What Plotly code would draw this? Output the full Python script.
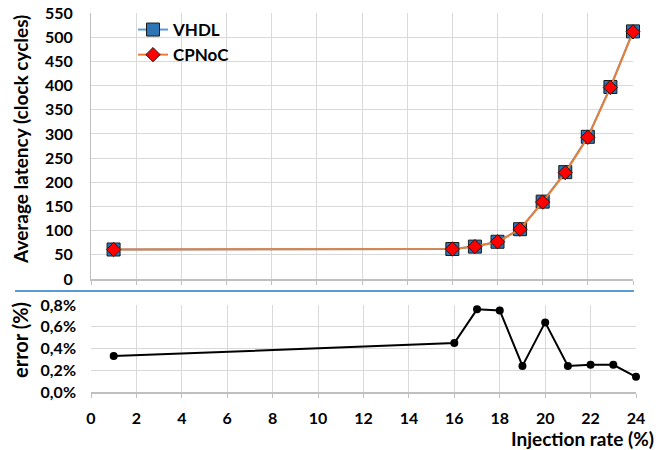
import plotly.graph_objects as go

injection = [1, 16, 17, 18, 19, 20, 21, 22, 23, 24]
vhdl = [61, 62, 67, 77, 103, 160, 221, 294, 397, 512]
cpnoc = [61, 62, 67, 77, 103, 159, 220, 293, 396, 511]
error = [0.0033, 0.0045, 0.0076, 0.0075, 0.0024, 0.0064, 0.0024, 0.0025, 0.0025, 0.0014]

FONT = "Lato"
W, H = 668, 450
ml, mr, mt, mb = 91, 32, 13, 58
pw = W - ml - mr
ph = H - mt - mb

def fy(px):
    return (H - mb - px) / ph

def fx(px):
    return (px - ml) / pw

fig = go.Figure()
fig.add_trace(go.Scatter(x=injection, y=vhdl, name="VHDL", mode="lines+markers",
                         line=dict(color="#5B9BD5", width=2), cliponaxis=False,
                         marker=dict(symbol="square", size=13, color="#2E75B6",
                                     line=dict(color="#1a1a1a", width=1)),
                         xaxis="x", yaxis="y"))
fig.add_trace(go.Scatter(x=injection, y=cpnoc, name="CPNoC", mode="lines+markers",
                         line=dict(color="#ED7D31", width=2), cliponaxis=False,
                         marker=dict(symbol="diamond", size=11, color="#FF0000",
                                     line=dict(color="#1a1a1a", width=1)),
                         xaxis="x", yaxis="y"))
fig.add_trace(go.Scatter(x=injection, y=error, name="error", mode="lines+markers",
                         line=dict(color="#000000", width=2), cliponaxis=False,
                         marker=dict(symbol="circle", size=8, color="#000000"),
                         showlegend=False, xaxis="x2", yaxis="y2"))

tickfont = dict(family=FONT, size=16, color="#000000", weight="bold")
grid = "#D9D9D9"

fig.update_layout(
    width=W, height=H,
    margin=dict(l=ml, r=mr, t=mt, b=mb, autoexpand=False),
    paper_bgcolor="white", plot_bgcolor="white",
    separators=",.",
    font=dict(family=FONT, color="#000000"),
    xaxis=dict(domain=[0, fx(633)], range=[0, 24], dtick=2, showticklabels=False,
               showgrid=True, gridcolor=grid, gridwidth=1, zeroline=False,
               showline=True, linecolor="#BFBFBF", linewidth=2, anchor="y",
               ticks="outside", ticklen=4, tickcolor="#BFBFBF", automargin=False),
    yaxis=dict(domain=[fy(279), 1], range=[0, 550], dtick=50,
               showgrid=True, gridcolor=grid, zeroline=False,
               showline=True, linecolor="#BFBFBF", linewidth=1,
               tickfont=tickfont, ticks="", ticklabelstandoff=14,
               anchor="x", automargin=False),
    xaxis2=dict(domain=[0, 1], range=[0, 24], dtick=2,
                showgrid=True, gridcolor=grid, zeroline=False,
                showline=True, linecolor="#BFBFBF", linewidth=2,
                ticks="outside", ticklen=4, tickcolor="#BFBFBF",
                tickfont=tickfont, ticklabelstandoff=7, anchor="y2", automargin=False),
    yaxis2=dict(domain=[0, fy(305)], range=[0, 0.008], dtick=0.002, tickformat=".1%",
                showgrid=True, gridcolor=grid, zeroline=False, showline=False,
                tickfont=tickfont, ticklabelstandoff=14,
                anchor="x2", automargin=False),
    legend=dict(x=fx(133), y=fy(12), xanchor="left", yanchor="top",
                bgcolor="rgba(255,255,255,0)",
                font=dict(family=FONT, size=17, weight="bold", color="#000000"),
                itemwidth=30, tracegroupgap=2),
    showlegend=True,
)

fig.add_shape(type="line", xref="paper", yref="paper",
              x0=fx(15), x1=fx(634), y0=fy(291), y1=fy(291),
              line=dict(color="#5B9BD5", width=2))

titlefont = dict(family=FONT, size=19, weight="bold", color="#000000")
fig.add_annotation(text="Injection rate (%)", xref="paper", yref="paper",
                   x=fx(656), y=fy(438), xanchor="right", yanchor="middle",
                   showarrow=False, font=titlefont)
fig.add_annotation(text="Average latency (clock cycles)", xref="paper", yref="paper",
                   x=fx(20), y=fy(140), xanchor="center", yanchor="middle", textangle=-90,
                   showarrow=False, font=titlefont)
fig.add_annotation(text="error (%)", xref="paper", yref="paper",
                   x=fx(20), y=fy(340), xanchor="center", yanchor="middle", textangle=-90,
                   showarrow=False, font=dict(family=FONT, size=20, weight="bold", color="#000000"))

fig.write_html("out.html")
